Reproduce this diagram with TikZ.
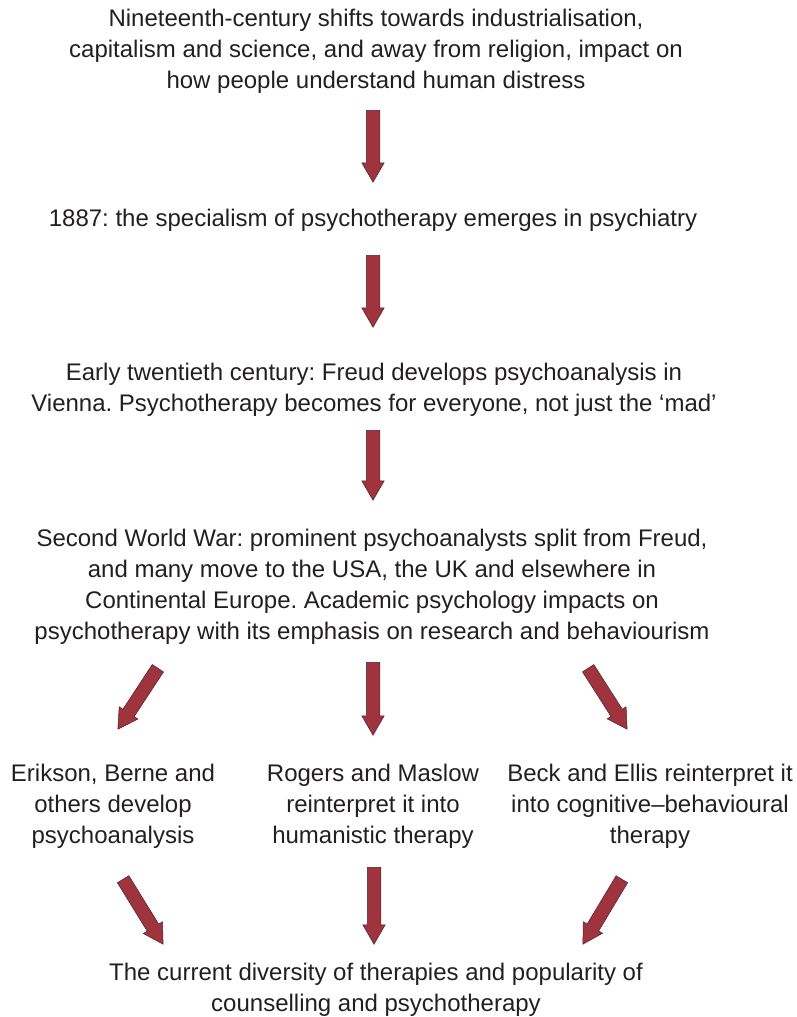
\documentclass[tikz,border=0pt]{standalone}
\usepackage{fontspec}
\setmainfont{Liberation Sans}
\usepackage{xcolor}
\usepackage{tikz}
\usetikzlibrary{shapes.arrows,calc}
\frenchspacing

\definecolor{arrowred}{RGB}{160,52,62}
\definecolor{arrowedge}{RGB}{70,40,42}
\definecolor{textgray}{RGB}{35,31,32}

\tikzset{
  step text/.style={align=center, text=textgray, inner sep=0pt,
    font=\fontsize{24}{31}\selectfont},
  bigarrow/.style={single arrow, draw=arrowedge, fill=arrowred, line width=0.5pt,
    minimum width=22pt, single arrow head extend=4.5pt,
    single arrow tip angle=60, inner xsep=0pt, inner ysep=6.5pt}
}

% block arrow from one named point to another
\newcommand{\flowarrow}[2]{%
  \path let \p1=(#1), \p2=(#2),
        \n1={atan2(\y2-\y1,\x2-\x1)}, \n2={veclen(\x2-\x1,\y2-\y1)} in
    node[bigarrow, rotate=\n1, minimum height=\n2, anchor=tail] at (#1) {};}

\begin{document}
\begin{tikzpicture}[x=1pt,y=-1pt]
    % page frame
    \useasboundingbox (0,0) rectangle (796,1017);

    % Steps
    \node[step text] (shifts) at (376,51)
      {Nineteenth-century shifts towards industrialisation,\\
       capitalism and science, and away from religion, impact on\\
       how people understand human distress};
    \node[step text] (y1887) at (373,220)
      {1887: the specialism of psychotherapy emerges in psychiatry};
    \node[step text] (freud) at (374,390)
      {Early twentieth century: Freud develops psychoanalysis in\\
       Vienna. Psychotherapy becomes for everyone, not just the `mad'};
    \node[step text] (war) at (372,587)
      {Second World War: prominent psychoanalysts split from Freud,\\
       and many move to the USA, the UK and elsewhere in\\
       Continental Europe. Academic psychology impacts on\\
       psychotherapy with its emphasis on research and behaviourism};

    % Three branches
    \node[step text] (erikson) at (113,806)
      {Erikson, Berne and\\ others develop\\ psychoanalysis};
    \node[step text] (rogers) at (373,806)
      {Rogers and Maslow\\ reinterpret it into\\ humanistic therapy};
    \node[step text] (beck) at (650,806)
      {Beck and Ellis reinterpret it\\ into cognitive--behavioural\\ therapy};

    \node[step text] (current) at (376,990)
      {The current diversity of therapies and popularity of\\
       counselling and psychotherapy};

    % Arrow ends
    \coordinate (a1s) at (373,110); \coordinate (a1e) at (373,182);
    \coordinate (a2s) at (373,255); \coordinate (a2e) at (373,327);
    \coordinate (a3s) at (373,430); \coordinate (a3e) at (373,500);
    \coordinate (bLs) at (158,668); \coordinate (bLe) at (118,729);
    \coordinate (bMs) at (373,662); \coordinate (bMe) at (373,735);
    \coordinate (bRs) at (588,668); \coordinate (bRe) at (627,729);
    \coordinate (cLs) at (123,879); \coordinate (cLe) at (163,944);
    \coordinate (cMs) at (374,867); \coordinate (cMe) at (374,944);
    \coordinate (cRs) at (622,879); \coordinate (cRe) at (583,944);

    % Arrows
    \flowarrow{a1s}{a1e}
    \flowarrow{a2s}{a2e}
    \flowarrow{a3s}{a3e}
    \flowarrow{bLs}{bLe}
    \flowarrow{bMs}{bMe}
    \flowarrow{bRs}{bRe}
    \flowarrow{cLs}{cLe}
    \flowarrow{cMs}{cMe}
    \flowarrow{cRs}{cRe}
\end{tikzpicture}
\end{document}
